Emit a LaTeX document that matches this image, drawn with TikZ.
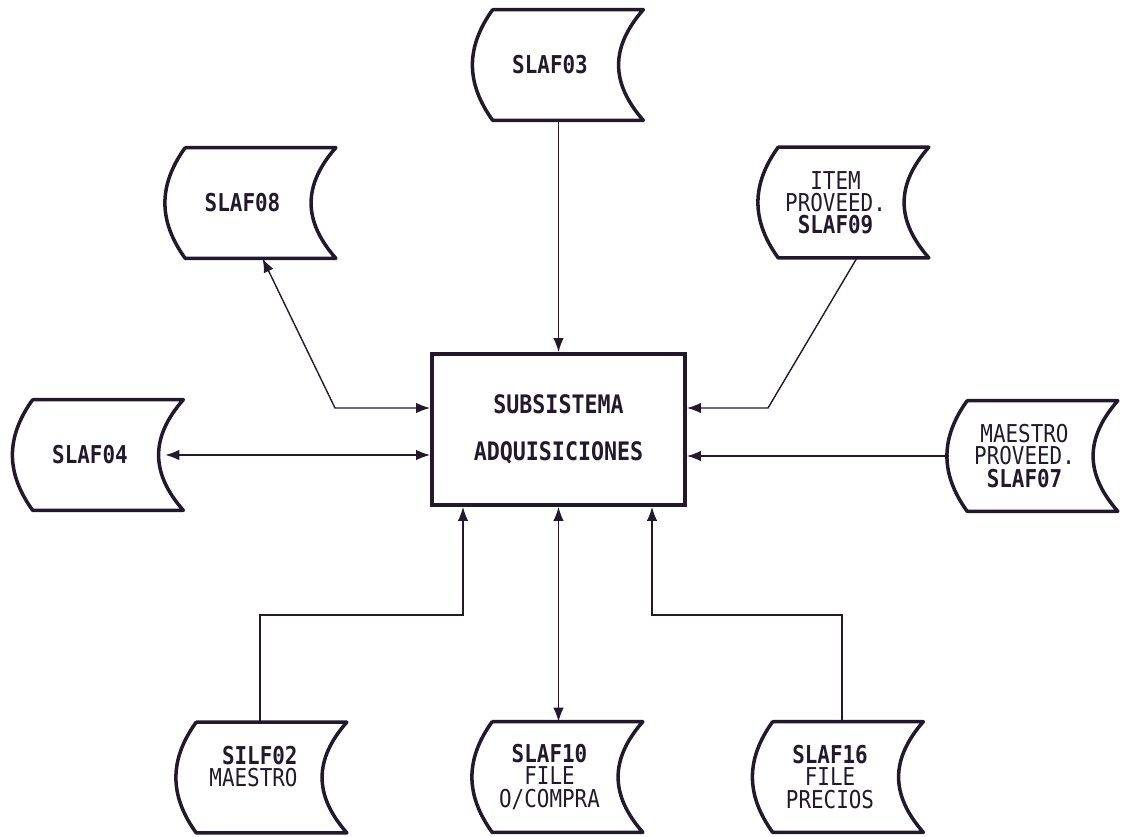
\documentclass[tikz,border=0pt]{standalone}
\usepackage{fontspec}
\setmonofont[FakeStretch=0.85]{DejaVu Sans Mono}
\usetikzlibrary{arrows.meta}
\definecolor{ink}{RGB}{35,25,45}

\begin{document}
\begin{tikzpicture}[x=0.02cm,y=-0.02cm]
                \tikzset{file/.style={minimum width=3cm,minimum height=2.2cm,inner sep=0pt,align=center,text=ink,
                font=\ttfamily\fontsize{14}{12.6}\selectfont},
                fileline/.style={draw=ink,line width=2pt,line join=round,line cap=round},
                conn/.style={draw=ink,line width=0.8pt},
                tip/.style={-{Latex[length=0.28cm,width=0.21cm]}},
                tips/.style={{Latex[length=0.28cm,width=0.21cm]}-{Latex[length=0.28cm,width=0.21cm]}}}
                \useasboundingbox (0,0) rectangle (1124,837);

                \node[draw=ink,line width=2.2pt,minimum width=5.06cm,minimum height=3.02cm,align=center,text=ink,
                font=\ttfamily\bfseries\fontsize{14.5}{26.6}\selectfont] (box) at (558.5,429.5) {SUBSISTEMA\\ADQUISICIONES};

                \node[file] (f03) at (550,65) {\textbf{SLAF03}};
                \node[file] (f08) at (242.5,203) {\textbf{SLAF08}};
                \node[file] (f04) at (90,455) {\textbf{SLAF04}};
                \node[file] (f09) at (835.5,202.5) {ITEM\\PROVEED.\\\textbf{SLAF09}};
                \node[file] (f07) at (1024.5,456) {MAESTRO\\PROVEED.\\\textbf{SLAF07}};
                \node[file,align=right] (f02) at (253.5,777.5) {\textbf{SILF02}\\MAESTRO\\\mbox{}};
                \node[file] (f10) at (549.5,777) {\textbf{SLAF10}\\FILE\\O/COMPRA};
                \node[file] (f16) at (830,777) {\textbf{SLAF16}\\FILE\\PRECIOS};

                \foreach \f in {f03,f08,f04,f09,f07,f02,f10,f16}
                \draw[fileline] ([xshift=3.6mm]\f.north west) -- ([xshift=3.6mm]\f.north east)
                .. controls +(-0.66cm,-0.75cm) and +(-0.66cm,0.75cm) .. ([xshift=3.6mm]\f.south east)
                -- ([xshift=3.6mm]\f.south west)
                .. controls +(-0.54cm,0.75cm) and +(-0.54cm,-0.75cm) .. ([xshift=3.6mm]\f.north west);

                \coordinate (b08) at (335,408);
                \coordinate (b09) at (768,408);
                \coordinate (j02) at (463,615);
                \coordinate (j16) at (652,615);

                \draw[conn,tip] (f03.south -| box.north) -- (box.north);
                \draw[conn,tips] ([xshift=4mm]f08.south) -- (b08) -- (b08 -| box.west);
                \draw[conn,tips] (f04.east) -- (f04.east -| box.west);
                \draw[conn,tip] ([xshift=4.3mm]f09.south) -- (b09) -- (b09 -| box.east);
                \draw[conn,tip] (f07.west) -- (f07.west -| box.east);
                \draw[conn,tip] ([xshift=1.3mm]f02.north) |- (j02) -- (j02 |- box.south);
                \draw[conn,tips] (box.south) -- (box.south |- f10.north);
                \draw[conn,tip] ([xshift=2.4mm]f16.north) |- (j16) -- (j16 |- box.south);
            \end{tikzpicture}
\end{document}
